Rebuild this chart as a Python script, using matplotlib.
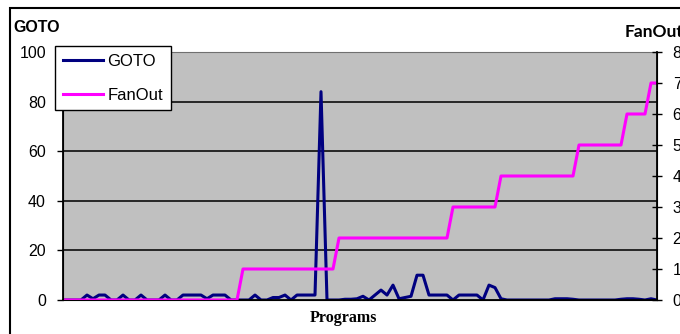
import matplotlib.pyplot as plt
from matplotlib.patches import Rectangle

# GOTO count and FanOut per program
goto = [0, 0, 0, 0, 2, 0.5, 2, 2, 0, 0,
        2, 0, 0, 2, 0, 0, 0, 2, 0, 0,
        2, 2, 2, 2, 0.5, 2, 2, 2, 0, 0,
        0, 0, 2, 0, 0, 1, 1, 2, 0, 2,
        2, 2, 2, 84, 0, 0, 0, 0.3, 0.3, 0.5,
        1.5, 0, 2, 4, 2, 6, 0.5, 1, 1.5, 10,
        10, 2, 2, 2, 2, 0, 2, 2, 2, 2,
        0, 6, 5, 0.5, 0, 0, 0, 0, 0, 0,
        0, 0, 0.5, 0.5, 0.5, 0.3, 0, 0, 0, 0,
        0, 0, 0, 0.3, 0.5, 0.5, 0.3, 0, 0.5, 0]
fanout = [0, 0, 0, 0, 0, 0, 0, 0, 0, 0,
          0, 0, 0, 0, 0, 0, 0, 0, 0, 0,
          0, 0, 0, 0, 0, 0, 0, 0, 0, 0,
          1, 1, 1, 1, 1, 1, 1, 1, 1, 1,
          1, 1, 1, 1, 1, 1, 2, 2, 2, 2,
          2, 2, 2, 2, 2, 2, 2, 2, 2, 2,
          2, 2, 2, 2, 2, 3, 3, 3, 3, 3,
          3, 3, 3, 4, 4, 4, 4, 4, 4, 4,
          4, 4, 4, 4, 4, 4, 5, 5, 5, 5,
          5, 5, 5, 5, 6, 6, 6, 6, 7, 7]
programs = list(range(len(goto)))

W, H = 680, 334
fig = plt.figure(figsize=[6.8, 3.34], dpi=100)

# outer chart border (cropped on the right and bottom)
fig.patches.append(Rectangle((10 / W, -0.1), 1.2, 1 - 8 / H + 0.1,
                             transform=fig.transFigure, fill=False,
                             edgecolor="black", linewidth=1.5))

ax = fig.add_axes([63 / W, 34 / H, 594 / W, 248 / H])
ax.set_facecolor("#c0c0c0")
ax.plot(programs, goto, color="#000080", linewidth=2.2, label="GOTO")
ax.set_xlim(0, len(goto) - 1)
ax.set_ylim(0, 100)
ax.set_yticks([0, 20, 40, 60, 80, 100])
ax.set_xticks([])
for v in [20, 40, 60, 80]:
    ax.axhline(v, color="#1a1a1a", linewidth=1.3, zorder=1)
ax.tick_params(axis="y", direction="out", length=4.3, width=1, pad=8,
               labelsize=11.5, labelfontfamily="Liberation Sans")
ax.spines["top"].set_color("#707070")
ax.spines["left"].set_linewidth(1.3)
ax.spines["bottom"].set_linewidth(1.3)

ax2 = ax.twinx()
ax2.plot(programs, fanout, color="#ff00ff", linewidth=2.2, label="FanOut")
ax2.set_ylim(0, 8)
ax2.set_yticks(range(0, 9))
ax2.tick_params(axis="y", direction="inout", length=7.5, width=1, pad=7.5,
                labelsize=11.5, labelfontfamily="Liberation Sans")
ax2.spines["right"].set_linewidth(1.3)
ax2.spines["top"].set_visible(False)

fig.text(13 / W, 1 - 27 / H, "GOTO", fontsize=11.5, fontweight="bold",
         family="Liberation Sans", va="center", ha="left")
fig.text(625 / W, 1 - 32 / H, "FanOut", fontsize=12.5, fontweight="bold",
         family="Lato", va="center", ha="left")
fig.text(343 / W, 1 - 318 / H, "Programs", fontsize=11.5, fontweight="bold",
         family="Liberation Serif", va="center", ha="center")

h1, l1 = ax.get_legend_handles_labels()
h2, l2 = ax2.get_legend_handles_labels()
leg = fig.legend(h1 + h2, l1 + l2, loc="upper left",
                 bbox_to_anchor=(55 / W, 1 - 46 / H), borderaxespad=0,
                 fancybox=False, edgecolor="black", framealpha=1,
                 prop={"family": "Liberation Sans", "size": 12},
                 handlelength=2.4, handletextpad=0.3, borderpad=0.45,
                 labelspacing=1.15)
leg.get_frame().set_linewidth(1.0)

plt.savefig("out.png", dpi=100)
